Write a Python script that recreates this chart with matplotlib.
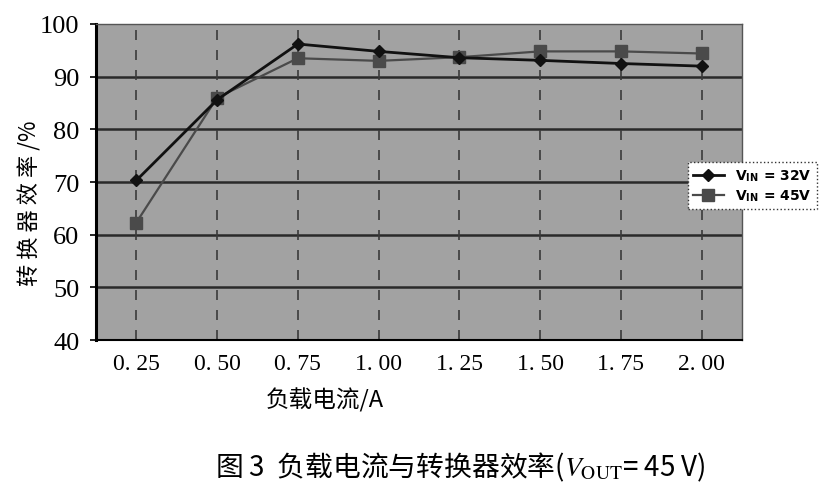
import matplotlib
matplotlib.use("Agg")
import matplotlib.pyplot as plt
import numpy as np

plt.rcParams['font.family'] = ['Liberation Serif', 'Noto Sans CJK SC', 'DejaVu Sans']
plt.rcParams['mathtext.fontset'] = 'stix'

# 数据
currents = ['0. 25', '0. 50', '0. 75', '1. 00', '1. 25', '1. 50', '1. 75', '2. 00']
eff_32v = [70.3, 85.6, 96.2, 94.8, 93.6, 93.1, 92.5, 92.0]
eff_45v = [62.3, 86.0, 93.5, 93.0, 93.7, 94.8, 94.8, 94.4]
y_ticks = [40, 50, 60, 70, 80, 90, 100]

fig = plt.figure(figsize=(8.33, 5.02), dpi=100)
ax = fig.add_axes([0.1152, 0.3207, 0.7755, 0.6295])
ax.set_facecolor('#a2a2a2')

x = np.arange(len(currents))

# сетка
for yy in y_ticks[1:-1]:
    ax.axhline(yy, color='#2a2a2a', lw=1.8, zorder=1)
for xx in x:
    ax.axvline(xx, color='#3a3a3a', lw=1.2, ls=(0, (6, 6)), zorder=1)

ax.plot(x, eff_32v, color='#111111', lw=2, marker='D', ms=6,
        label=r'V$_{\mathregular{IN}}$ = 32V', zorder=4)
ax.plot(x, eff_45v, color='#4a4a4a', lw=1.6, marker='s', ms=8,
        label=r'V$_{\mathregular{IN}}$ = 45V', zorder=3)

ax.set_xlim(-0.5, len(currents) - 0.5)
ax.set_ylim(40, 100)
ax.set_yticks(y_ticks)
ax.set_xticks(x)
ax.set_xticklabels(currents, fontsize=17)
ax.tick_params(axis='x', length=0, pad=9)
ax.tick_params(axis='y', labelsize=19, length=4, width=1.2, direction='out', pad=8)

for s in ['top', 'right']:
    ax.spines[s].set_color('#555555')
    ax.spines[s].set_linewidth(1)
ax.spines['left'].set_linewidth(2.2)
ax.spines['bottom'].set_linewidth(1.5)

fig.text(30 / 833, 1 - 203 / 502, '转 换 器 效 率 /%', fontsize=16, rotation=90,
         ha='center', va='center', family=['Noto Sans CJK SC', 'DejaVu Sans'])

fig.text(325 / 833, 1 - 400 / 502, '负载电流/A', fontsize=17, ha='center', va='center',
         family=['Noto Sans CJK SC', 'DejaVu Sans'])

fig.text(460 / 833, 1 - 467 / 502, '图 3  负载电流与转换器效率($V_{\\mathrm{OUT}}$= 45 V)',
         fontsize=20, ha='center', va='center', weight='medium',
         family=['Noto Sans CJK SC', 'DejaVu Sans'])

leg = ax.legend(loc='upper left', bbox_to_anchor=(0.905, 0.585), frameon=True,
                fancybox=False, handlelength=2.2, borderpad=0.4,
                labelspacing=0.3, prop={'family': 'DejaVu Sans', 'weight': 'bold', 'size': 10})
leg.get_frame().set_edgecolor('#333333')
leg.get_frame().set_linestyle(':')
leg.get_frame().set_facecolor('white')
leg.get_frame().set_alpha(1)

fig.savefig('out.png', dpi=100)
